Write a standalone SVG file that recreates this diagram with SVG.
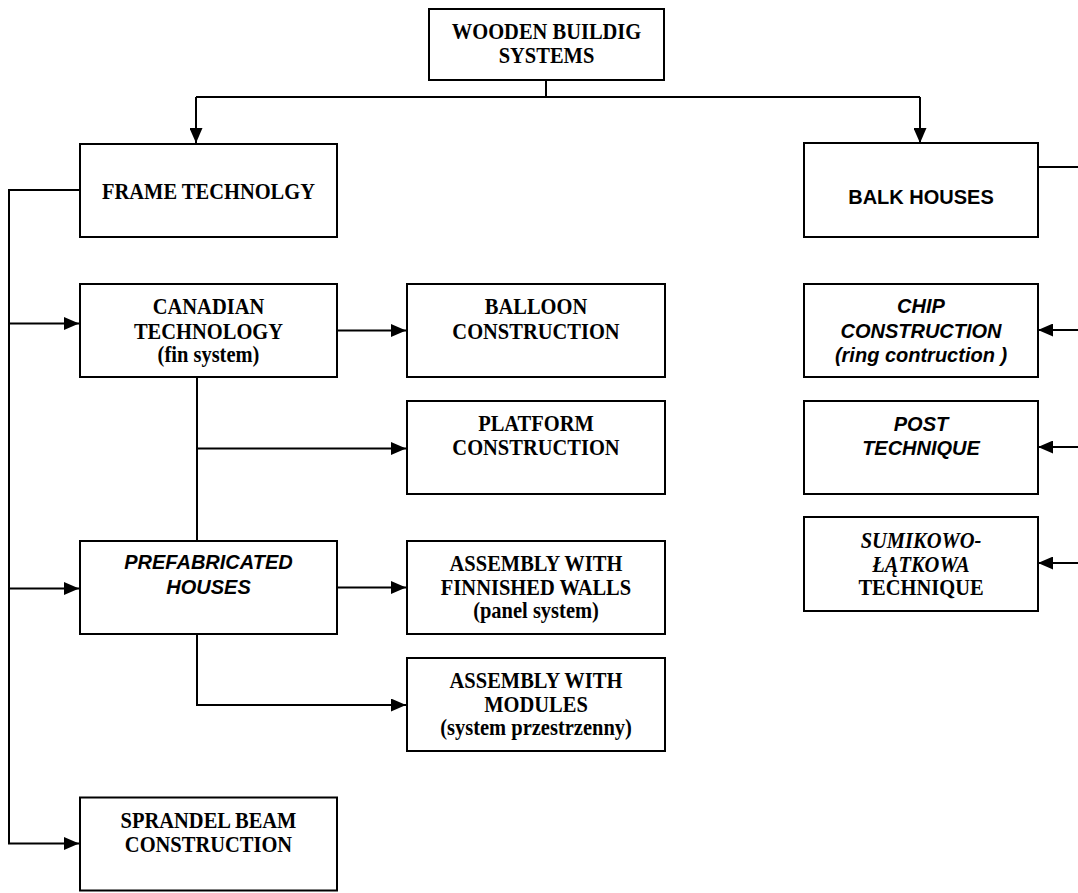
<svg xmlns="http://www.w3.org/2000/svg" width="1078" height="893" viewBox="0 0 1078 893">
  <style>
    .box { fill: #ffffff; stroke: #000000; stroke-width: 2; }
    .wire { fill: none; stroke: #000000; stroke-width: 2; }
    text { text-anchor: middle; fill: #000; }
    .tr { font-family: "Liberation Serif", "Times New Roman", serif; font-weight: bold; font-size: 20.5px; }
    .tri { font-family: "Liberation Serif", "Times New Roman", serif; font-weight: bold; font-style: italic; font-size: 20.5px; }
    .ar { font-family: "Liberation Sans", Arial, sans-serif; font-weight: bold; font-size: 20px; }
    .ari { font-family: "Liberation Sans", Arial, sans-serif; font-weight: bold; font-style: italic; font-size: 20px; }
  </style>
  <defs>
    <marker id="arrow" markerUnits="userSpaceOnUse" markerWidth="15" markerHeight="13" refX="15" refY="6.5" orient="auto">
      <path d="M0,0 L15,6.5 L0,13 Z" fill="#000"/>
    </marker>
  </defs>
  <rect width="1078" height="893" fill="#ffffff"/>

  <!-- connectors -->
  <g id="connectors" class="wire">
    <path d="M546,80 V97"/>
    <path d="M196,97 H920"/>
    <path d="M196,97 V143" marker-end="url(#arrow)"/>
    <path d="M920,97 V143" marker-end="url(#arrow)"/>
    <!-- frame technology trunk -->
    <path d="M80,190 H9 V843.5 H79" marker-end="url(#arrow)"/>
    <path d="M9,323.5 H79" marker-end="url(#arrow)"/>
    <path d="M9,588.5 H79" marker-end="url(#arrow)"/>
    <!-- canadian branch -->
    <path d="M337,330.5 H406" marker-end="url(#arrow)"/>
    <path d="M197,377 V541"/>
    <path d="M197,448.5 H406" marker-end="url(#arrow)"/>
    <!-- prefabricated branch -->
    <path d="M337,587.5 H406" marker-end="url(#arrow)"/>
    <path d="M197,634 V705 H406" marker-end="url(#arrow)"/>
    <!-- balk houses trunk -->
    <path d="M1038,167 H1080"/>
    <path d="M1080,330 H1038" marker-end="url(#arrow)"/>
    <path d="M1080,447 H1038" marker-end="url(#arrow)"/>
    <path d="M1080,563 H1038" marker-end="url(#arrow)"/>
  </g>

  <!-- labels are stretched slightly upward from their baselines -->
  <g id="wooden-building-systems">
    <rect class="box" x="429" y="9" width="235" height="71"/>
    <text class="tr" transform="translate(546.5,39) scale(1,1.1)">WOODEN BUILDIG</text>
    <text class="tr" transform="translate(546.5,63) scale(1,1.1)">SYSTEMS</text>
  </g>

  <g id="frame-technology">
    <rect class="box" x="80" y="144" width="257" height="93"/>
    <text class="tr" transform="translate(208.5,199) scale(1,1.1)">FRAME TECHNOLGY</text>
  </g>

  <g id="balk-houses">
    <rect class="box" x="804" y="143" width="234" height="94"/>
    <text class="ar" transform="translate(921,204) scale(1,1.05)">BALK HOUSES</text>
  </g>

  <g id="canadian-technology">
    <rect class="box" x="80" y="284" width="257" height="93"/>
    <text class="tr" transform="translate(208.5,314) scale(1,1.1)">CANADIAN</text>
    <text class="tr" transform="translate(208.5,338.5) scale(1,1.1)">TECHNOLOGY</text>
    <text class="tr" transform="translate(208.5,361.5) scale(1,1.1)">(fin system)</text>
  </g>

  <g id="balloon-construction">
    <rect class="box" x="407" y="284" width="258" height="93"/>
    <text class="tr" transform="translate(536,314) scale(1,1.1)">BALLOON</text>
    <text class="tr" transform="translate(536,338.5) scale(1,1.1)">CONSTRUCTION</text>
  </g>

  <g id="platform-construction">
    <rect class="box" x="407" y="401" width="258" height="93"/>
    <text class="tr" transform="translate(536,431) scale(1,1.1)">PLATFORM</text>
    <text class="tr" transform="translate(536,455) scale(1,1.1)">CONSTRUCTION</text>
  </g>

  <g id="prefabricated-houses">
    <rect class="box" x="80" y="541" width="257" height="93"/>
    <text class="ari" transform="translate(208.5,569) scale(1,1.05)">PREFABRICATED</text>
    <text class="ari" transform="translate(208.5,594) scale(1,1.05)">HOUSES</text>
  </g>

  <g id="assembly-finished-walls">
    <rect class="box" x="407" y="541" width="258" height="93"/>
    <text class="tr" transform="translate(536,571) scale(1,1.1)">ASSEMBLY WITH</text>
    <text class="tr" transform="translate(536,595) scale(1,1.1)">FINNISHED WALLS</text>
    <text class="tr" transform="translate(536,618) scale(1,1.1)">(panel system)</text>
  </g>

  <g id="assembly-modules">
    <rect class="box" x="407" y="658" width="258" height="93"/>
    <text class="tr" transform="translate(536,688) scale(1,1.1)">ASSEMBLY WITH</text>
    <text class="tr" transform="translate(536,711.5) scale(1,1.1)">MODULES</text>
    <text class="tr" transform="translate(536,735) scale(1,1.1)">(system przestrzenny)</text>
  </g>

  <g id="sprandel-beam-construction">
    <rect class="box" x="80" y="797.5" width="257" height="93"/>
    <text class="tr" transform="translate(208.5,828) scale(1,1.1)">SPRANDEL BEAM</text>
    <text class="tr" transform="translate(208.5,852) scale(1,1.1)">CONSTRUCTION</text>
  </g>

  <g id="chip-construction">
    <rect class="box" x="804" y="284" width="234" height="93"/>
    <text class="ari" transform="translate(921,313) scale(1,1.05)">CHIP</text>
    <text class="ari" transform="translate(921,338) scale(1,1.05)">CONSTRUCTION</text>
    <text class="ari" transform="translate(921,362) scale(1,1.05)">(ring contruction )</text>
  </g>

  <g id="post-technique">
    <rect class="box" x="804" y="401" width="234" height="93"/>
    <text class="ari" transform="translate(921,431) scale(1,1.05)">POST</text>
    <text class="ari" transform="translate(921,455) scale(1,1.05)">TECHNIQUE</text>
  </g>

  <g id="sumikowo-latkowa-technique">
    <rect class="box" x="804" y="517" width="234" height="94"/>
    <text class="tri" transform="translate(921,548) scale(1,1.1)">SUMIKOWO-</text>
    <text class="tri" transform="translate(921,572) scale(1,1.1)">ŁĄTKOWA</text>
    <text class="tr" transform="translate(921,595) scale(1,1.1)">TECHNIQUE</text>
  </g>
</svg>
